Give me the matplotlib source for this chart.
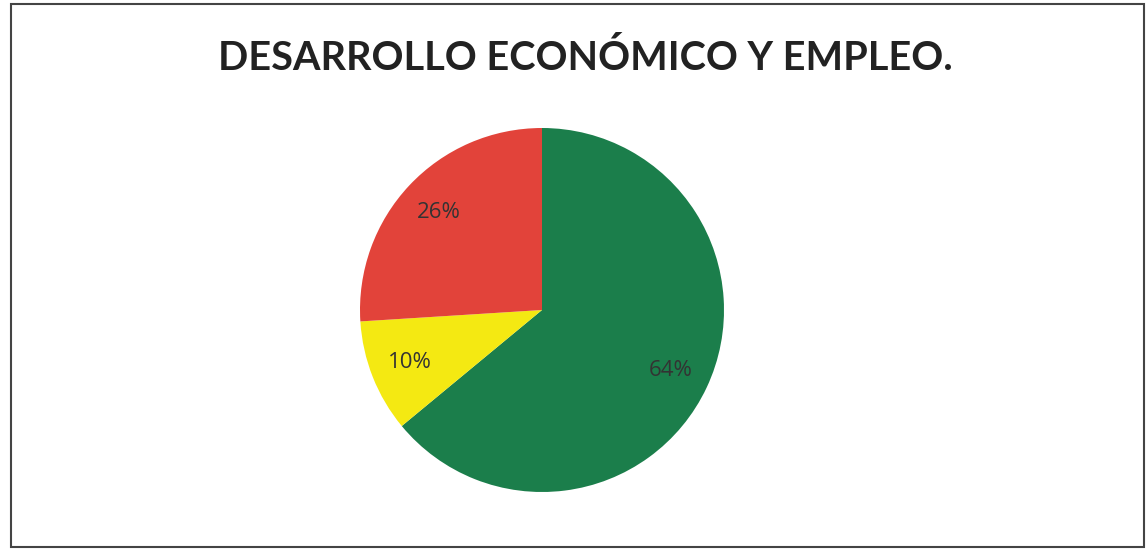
import matplotlib.pyplot as plt
from matplotlib.patches import Rectangle

labels = ['Verde', 'Amarillo', 'Rojo']
values = [64, 10, 26]
colors = ['#1b7e4b', '#f4e912', '#e2433a']

fig = plt.figure(figsize=(11.47, 5.51), dpi=100)
fig.patch.set_facecolor('white')

# outer chart frame
fig.patches.append(Rectangle((11 / 1147, 4 / 551), 1133 / 1147, 543 / 551,
                             transform=fig.transFigure, fill=False,
                             edgecolor='#444444', linewidth=1.5))

ax = fig.add_axes([360 / 1147, 59 / 551, 364 / 1147, 364 / 551])
wedges, texts, autotexts = ax.pie(values, colors=colors, startangle=90, counterclock=False,
                                  autopct='%1.0f%%', pctdistance=0.78,
                                  textprops=dict(fontsize=16, color='#333333', family='Open Sans'))
ax.set_xlim(-1, 1)
ax.set_ylim(-1, 1)
ax.set_aspect('equal')

fig.text(585 / 1147, 1 - 58 / 551, 'DESARROLLO ECONÓMICO Y EMPLEO.', ha='center', va='center',
         fontsize=28.5, fontweight='bold', family='Lato', color='#222222')

plt.savefig('out.png', dpi=100)
